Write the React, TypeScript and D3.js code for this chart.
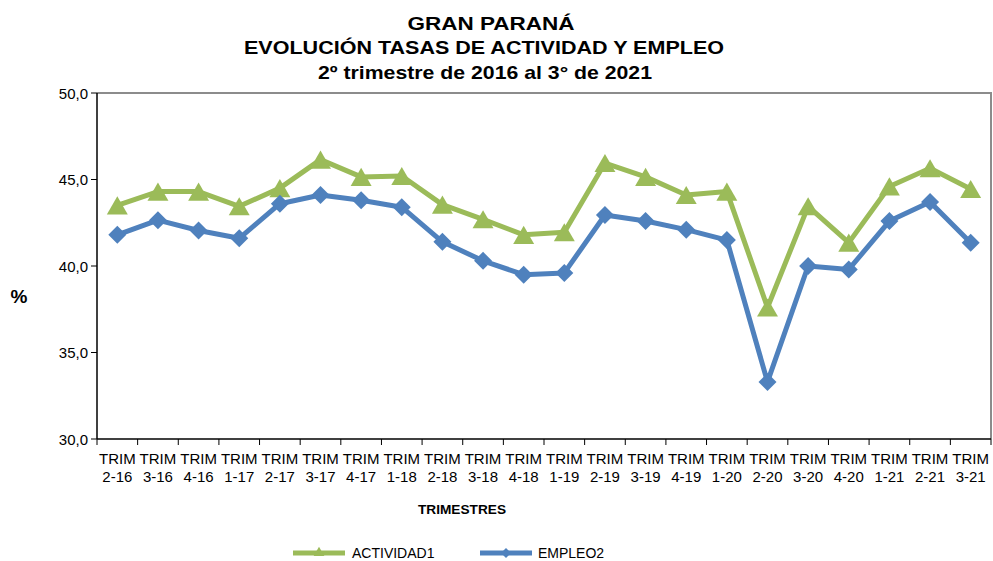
import React from "react";
import * as d3 from "d3";

const categories = ["2-16","3-16","4-16","1-17","2-17","3-17","4-17","1-18","2-18","3-18","4-18","1-19","2-19","3-19","4-19","1-20","2-20","3-20","4-20","1-21","2-21","3-21"];
const actividad = [43.5,44.3,44.3,43.45,44.5,46.15,45.15,45.2,43.55,42.7,41.8,41.95,45.95,45.15,44.1,44.3,37.6,43.45,41.35,44.6,45.65,44.45];
const empleo = [41.8,42.65,42.05,41.6,43.6,44.1,43.8,43.4,41.4,40.3,39.5,39.6,42.95,42.6,42.1,41.5,33.3,40.0,39.8,42.6,43.7,41.35];
const yTicks = [30,35,40,45,50];

const W = 993, H = 561;
const L = 97, R = 991, T = 93, B = 439;
const GREEN = "#9BBB59", BLUE = "#4F81BD";
const FONT = "'Liberation Sans', Arial, sans-serif";

export default function App() {
  const x = d3.scaleBand<string>().domain(categories).range([L, R]);
  const y = d3.scaleLinear().domain([30, 50]).range([B, T]);
  const cx = (c: string) => (x(c) as number) + x.bandwidth() / 2;
  const line = d3.line<number>().x((_, i) => cx(categories[i])).y(d => y(d));
  const tri = d3.symbol().type(d3.symbolTriangle).size(190)();
  const dia = (s: number) => `M0,${-s}L${s},0L0,${s}L${-s},0Z`;
  const fmt = (v: number) => v.toFixed(1).replace(".", ",");

  return (
    <svg width={W} height={H} style={{ position: "absolute", left: 0, top: 0, background: "#fff" }} fontFamily={FONT}>
      <g fontWeight="bold" fontSize={18.5} textAnchor="middle" fill="#000">
        <text x={491} y={30} textLength={167} lengthAdjust="spacingAndGlyphs">GRAN PARANÁ</text>
        <text x={484} y={54} textLength={480} lengthAdjust="spacingAndGlyphs">EVOLUCIÓN TASAS DE ACTIVIDAD Y EMPLEO</text>
        <text x={485} y={79} textLength={334} lengthAdjust="spacingAndGlyphs">2º trimestre de 2016 al 3° de 2021</text>
      </g>
      {/* plot border */}
      <path d={`M${L},${T}H${R}V${B}`} fill="none" stroke="#8c8c8c" strokeWidth={2} />
      {/* axes */}
      <line x1={L} x2={L} y1={T} y2={B} stroke="#000" strokeWidth={1.5} />
      <line x1={L} x2={R} y1={B} y2={B} stroke="#000" strokeWidth={1.5} />
      {yTicks.map(t => (
        <g key={t}>
          <line x1={L - 6} x2={L} y1={y(t)} y2={y(t)} stroke="#000" />
          <text x={L - 9} y={y(t) + 5.5} textAnchor="end" fontSize={15} fill="#000">{fmt(t)}</text>
        </g>
      ))}
      {categories.map((c, i) => (
        <line key={"t" + i} x1={(x(c) as number)} x2={(x(c) as number)} y1={B} y2={B + 6} stroke="#000" />
      ))}
      <line x1={R} x2={R} y1={B} y2={B + 6} stroke="#000" />
      {categories.map(c => (
        <text key={"l" + c} x={cx(c)} textAnchor="middle" fontSize={15} fill="#000">
          <tspan x={cx(c)} y={463.5}>TRIM</tspan>
          <tspan x={cx(c)} y={481.5}>{c}</tspan>
        </text>
      ))}
      <text x={462} y={514} textAnchor="middle" fontSize={12} fontWeight="bold" textLength={88} lengthAdjust="spacingAndGlyphs">TRIMESTRES</text>
      <text x={19} y={303} textAnchor="middle" fontSize={19} fontWeight="bold">%</text>
      {/* series */}
      <path d={line(actividad) as string} fill="none" stroke={GREEN} strokeWidth={5} strokeLinejoin="round" />
      {actividad.map((v, i) => (
        <path key={"a" + i} d={tri as string} transform={`translate(${cx(categories[i])},${y(v) + 3})`} fill={GREEN} />
      ))}
      <path d={line(empleo) as string} fill="none" stroke={BLUE} strokeWidth={5} strokeLinejoin="round" />
      {empleo.map((v, i) => (
        <path key={"e" + i} d={dia(9)} transform={`translate(${cx(categories[i])},${y(v)})`} fill={BLUE} />
      ))}
      {/* legend */}
      <line x1={293} x2={345} y1={553} y2={553} stroke={GREEN} strokeWidth={5} />
      <path d={d3.symbol().type(d3.symbolTriangle).size(50)() as string} transform="translate(319,553)" fill={GREEN} />
      <text x={352} y={558} fontSize={14}>ACTIVIDAD1</text>
      <line x1={480} x2={532} y1={553} y2={553} stroke={BLUE} strokeWidth={5} />
      <path d={dia(5)} transform="translate(506,553)" fill={BLUE} />
      <text x={538} y={558} fontSize={14}>EMPLEO2</text>
    </svg>
  );
}
